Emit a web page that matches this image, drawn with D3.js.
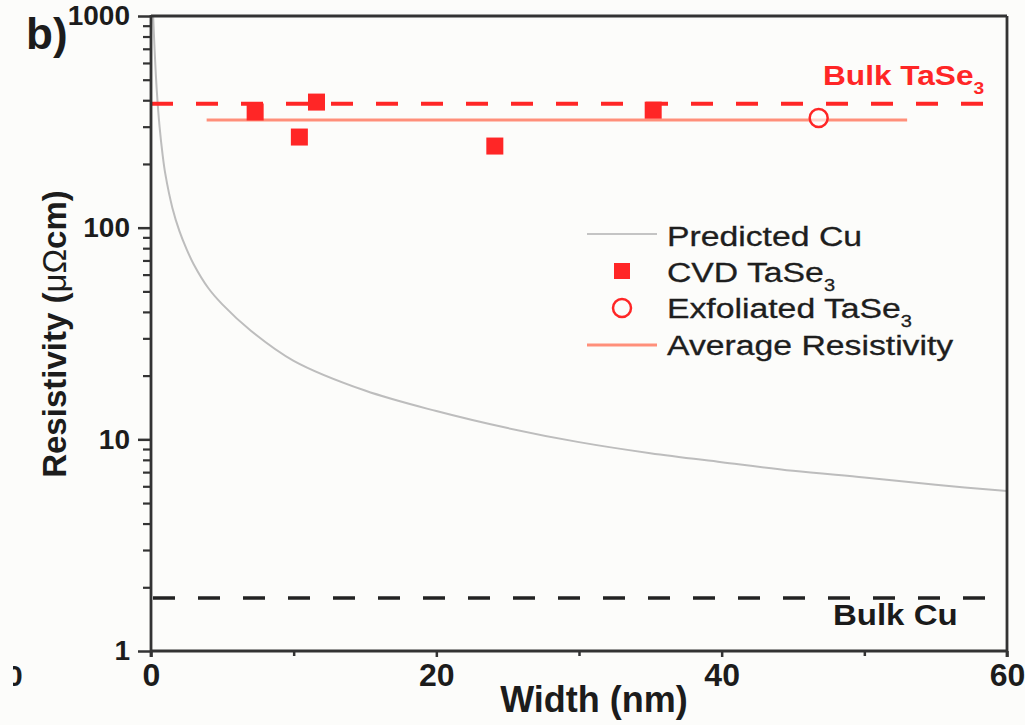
<!DOCTYPE html>
<html>
<head>
<meta charset="utf-8">
<script src="https://cdn.jsdelivr.net/npm/d3@7/dist/d3.min.js"></script>
<style>
  html, body { margin: 0; padding: 0; background: #fcfcfa; }
  svg { display: block; font-family: "Liberation Sans", Arial, sans-serif; }
</style>
</head>
<body>
<svg id="chart" width="1025" height="725"></svg>
<script>
// ---- Data ----
const xTicks = [0, 20, 40, 60];
const xMinorTicks = [10, 30, 50];
const yTicks = [1, 10, 100, 1000];

// Predicted Cu resistivity vs width
const cuWidth = [0.15, 0.25, 0.4, 0.6, 0.8, 1.0, 1.5, 2.0, 2.5, 3, 4, 5, 7, 10, 15, 20, 25, 30, 35, 40, 45, 50, 55, 60];
const cuRho   = [1000, 700, 450, 300, 225, 180, 124, 96, 79, 67, 52, 43.4, 32.6, 23.5, 17, 13.6, 11.3, 9.7, 8.6, 7.8, 7.1, 6.6, 6.1, 5.7];

// CVD TaSe3 measurements
const cvdWidth = [7.3, 10.4, 11.6, 24.1, 35.2];
const cvdRho   = [352, 268, 392, 243, 359];

// Exfoliated TaSe3
const exfWidth = [46.8];
const exfRho   = [330];

// Average resistivity line
const avgWidth = [3.9, 53.0];
const avgRho   = [323, 323];

// Bulk reference values
const bulkTaSe3 = 385;
const bulkCu = 1.78;

const legendLabels = ["Predicted Cu", "CVD TaSe", "Exfoliated TaSe", "Average Resistivity"];

// ---- Layout ----
const svg = d3.select("#chart");
const W = 1025, H = 725;
const x = d3.scaleLinear().domain([0, 60]).range([151, 1007]);
const y = d3.scaleLog().domain([1, 1000]).range([651, 16]);

const ink = "#1c1c1c";
const axisColor = "#333";
const red = "#ff2626";

svg.append("rect").attr("width", W).attr("height", H).attr("fill", "#fcfcfa");

const defs = svg.append("defs");
defs.append("clipPath").attr("id", "plotclip")
  .append("rect")
  .attr("x", x(0)).attr("y", y(1000))
  .attr("width", x(60) - x(0)).attr("height", y(1) - y(1000));

const plot = svg.append("g").attr("clip-path", "url(#plotclip)");

// Predicted Cu curve
const cuData = cuWidth.map((w, i) => ({ w, r: cuRho[i] }));
plot.append("path")
  .datum(cuData)
  .attr("fill", "none")
  .attr("stroke", "#bdbdbd")
  .attr("stroke-width", 2)
  .attr("d", d3.line().x(d => x(d.w)).y(d => y(d.r)).curve(d3.curveCatmullRom.alpha(0.5)));

// Bulk lines
plot.append("line")
  .attr("x1", x(0)).attr("x2", x(60))
  .attr("y1", y(bulkTaSe3)).attr("y2", y(bulkTaSe3))
  .attr("stroke", red).attr("stroke-width", 4)
  .attr("stroke-dasharray", "22,23");

plot.append("line")
  .attr("x1", x(0) + 2).attr("x2", x(60))
  .attr("y1", y(bulkCu)).attr("y2", y(bulkCu))
  .attr("stroke", "#222").attr("stroke-width", 3.5)
  .attr("stroke-dasharray", "22,23");

// Average line
plot.append("line")
  .attr("x1", x(avgWidth[0])).attr("x2", x(avgWidth[1]))
  .attr("y1", y(avgRho[0])).attr("y2", y(avgRho[1]))
  .attr("stroke", "#ff8f7a").attr("stroke-width", 3);

// CVD squares
const sq = 17;
plot.selectAll("rect.cvd")
  .data(cvdWidth.map((w, i) => ({ w, r: cvdRho[i] })))
  .join("rect")
  .attr("class", "cvd")
  .attr("x", d => x(d.w) - sq / 2)
  .attr("y", d => y(d.r) - sq / 2)
  .attr("width", sq).attr("height", sq)
  .attr("fill", red);

// Exfoliated circles
plot.selectAll("circle.exf")
  .data(exfWidth.map((w, i) => ({ w, r: exfRho[i] })))
  .join("circle")
  .attr("class", "exf")
  .attr("cx", d => x(d.w)).attr("cy", d => y(d.r))
  .attr("r", 9)
  .attr("fill", "#fff").attr("fill-opacity", 0.6)
  .attr("stroke", red).attr("stroke-width", 2.5);

// ---- Axes ----
const xAxis = d3.axisBottom(x).tickValues(xTicks).tickSize(6).tickPadding(6).tickFormat(d3.format("d"));
const gx = svg.append("g").attr("transform", `translate(0,${y(1)})`).call(xAxis);
gx.select(".domain").remove();
gx.selectAll(".tick line").attr("stroke", axisColor).attr("stroke-width", 2.5);
gx.selectAll(".tick text").attr("fill", ink).attr("font-size", 32).attr("font-weight", "bold")
  .attr("font-family", "Liberation Sans, Arial, sans-serif");

const xMinor = d3.axisBottom(x).tickValues(xMinorTicks).tickSize(5).tickFormat("");
const gxm = svg.append("g").attr("transform", `translate(0,${y(1)})`).call(xMinor);
gxm.select(".domain").remove();
gxm.selectAll(".tick line").attr("stroke", axisColor).attr("stroke-width", 2.5);

const yAxis = d3.axisLeft(y).tickValues(yTicks).tickSize(13).tickPadding(8).tickFormat(d3.format("d"));
const gy = svg.append("g").attr("transform", `translate(${x(0)},0)`).call(yAxis);
gy.select(".domain").remove();
gy.selectAll(".tick line").attr("stroke", axisColor).attr("stroke-width", 2.5);
gy.selectAll(".tick text").attr("fill", ink).attr("font-size", 28).attr("font-weight", "bold")
  .attr("font-family", "Liberation Sans, Arial, sans-serif");

const yMinorVals = [];
[1, 10, 100].forEach(dec => { for (let k = 2; k <= 9; k++) yMinorVals.push(dec * k); });
const yMinor = d3.axisLeft(y).tickValues(yMinorVals).tickSize(8).tickFormat("");
const gym = svg.append("g").attr("transform", `translate(${x(0)},0)`).call(yMinor);
gym.select(".domain").remove();
gym.selectAll(".tick line").attr("stroke", axisColor).attr("stroke-width", 2.2);

// Frame
const frame = svg.append("g").attr("stroke", axisColor).attr("stroke-width", 2.8).attr("fill", "none");
frame.append("line").attr("x1", x(0)).attr("x2", x(0)).attr("y1", y(1000) - 1).attr("y2", y(1) + 6);
frame.append("line").attr("x1", x(0)).attr("x2", x(60)).attr("y1", y(1)).attr("y2", y(1));
frame.append("line").attr("x1", x(0)).attr("x2", x(60)).attr("y1", y(1000)).attr("y2", y(1000));
frame.append("line").attr("x1", x(60)).attr("x2", x(60)).attr("y1", y(1000)).attr("y2", y(1) + 6);

// Helper for horizontally stretched text
function stretchedText(parent, tx, ty, sx) {
  return parent.append("g").attr("transform", `translate(${tx},${ty}) scale(${sx},1)`).append("text");
}

// Bulk labels
const tBulkTa = stretchedText(svg, 823, 85, 1.13)
  .attr("font-size", 28).attr("font-weight", "bold").attr("fill", red);
tBulkTa.append("tspan").text("Bulk TaSe");
tBulkTa.append("tspan").attr("font-size", 17).attr("dy", 9).text("3");

stretchedText(svg, 833, 625, 1.1)
  .attr("font-size", 30).attr("font-weight", "bold").attr("fill", "#1a1a1a")
  .text("Bulk Cu");

// Legend
const lg = svg.append("g");
const lx1 = 587, lx2 = 657, lcx = 622, ltx = 667;
const rows = [234, 271, 308, 345];
lg.append("line").attr("x1", lx1).attr("x2", lx2).attr("y1", rows[0]).attr("y2", rows[0])
  .attr("stroke", "#c4c4c4").attr("stroke-width", 2);
lg.append("rect").attr("x", lcx - 8).attr("y", rows[1] - 8).attr("width", 16).attr("height", 16).attr("fill", red);
lg.append("circle").attr("cx", lcx).attr("cy", rows[2]).attr("r", 9)
  .attr("fill", "none").attr("stroke", red).attr("stroke-width", 2.5);
lg.append("line").attr("x1", lx1).attr("x2", lx2).attr("y1", rows[3]).attr("y2", rows[3])
  .attr("stroke", "#ff8f7a").attr("stroke-width", 3);

const baselines = [246, 282, 318, 355];
legendLabels.forEach((lab, i) => {
  const t = stretchedText(lg, ltx, baselines[i], 1.25)
    .attr("font-size", 27).attr("fill", "#1e1e1e")
    .attr("stroke", "#1e1e1e").attr("stroke-width", 0.3);
  t.append("tspan").text(lab);
  if (i === 1 || i === 2) t.append("tspan").attr("font-size", 16).attr("dy", 9).text("3");
});

// Axis titles
svg.append("text")
  .attr("x", (x(0) + x(60)) / 2 + 15).attr("y", 712)
  .attr("text-anchor", "middle")
  .attr("font-size", 36).attr("font-weight", "bold").attr("fill", ink)
  .text("Width (nm)");

const yt = svg.append("text")
  .attr("transform", "translate(66,334) rotate(-90)")
  .attr("text-anchor", "middle")
  .attr("font-size", 33).attr("font-weight", "bold").attr("fill", ink);
yt.append("tspan").text("Resistivity (");
yt.append("tspan").attr("font-weight", "normal").text("μΩ");
yt.append("tspan").text("cm)");

// Panel label
svg.append("text").attr("x", 26).attr("y", 49)
  .attr("font-size", 44).attr("font-weight", "bold").attr("fill", ink).text("b)");

// Clipped fragment of neighbouring panel at left edge
svg.append("text").attr("x", 6).attr("y", 686)
  .attr("font-size", 30).attr("font-weight", "bold").attr("fill", ink).text("0");
svg.append("rect").attr("x", 0).attr("y", 655).attr("width", 13).attr("height", 40).attr("fill", "#fcfcfa");
</script>
</body>
</html>
